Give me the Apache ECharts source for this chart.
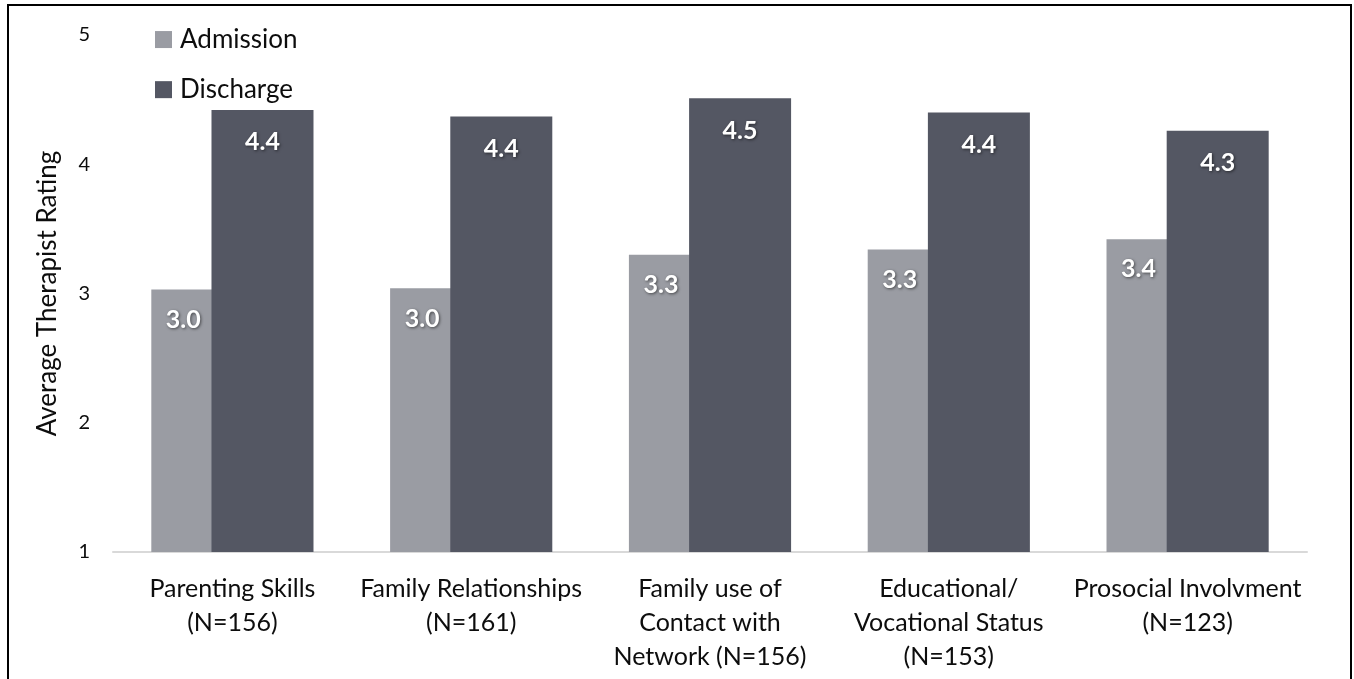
<html>
  <head>
    <title>Therapist Rating</title>
    <script src="https://cdn.jsdelivr.net/npm/echarts@6/dist/echarts.min.js"></script>
    <style>
      body { margin: 0; background: #fff; }
      #chart { width: 1354px; height: 679px; }
    </style>
  </head>
  <body>
    <div id="chart"></div>
    <script>
      // data
      var categories = [
        'Parenting Skills\n(N=156)',
        'Family Relationships\n(N=161)',
        'Family use of\nContact with\nNetwork (N=156)',
        'Educational/\nVocational Status\n(N=153)',
        'Prosocial Involvment\n(N=123)'
      ]
      var admission = [3.03, 3.04, 3.30, 3.34, 3.42]
      var discharge = [4.42, 4.37, 4.51, 4.40, 4.26]

      var font = 'Lato, "Open Sans", sans-serif'

      var labelStyle = {
        show: true,
        color: '#fff',
        fontSize: 25,
        fontWeight: 'bold',
        fontFamily: font,
        textShadowColor: 'rgba(0,0,0,0.55)',
        textShadowBlur: 3,
        textShadowOffsetX: 1,
        textShadowOffsetY: 1,
        formatter: function (p) { return p.value.toFixed(1) }
      }

      var myChart = echarts.init(document.getElementById('chart'))
      myChart.setOption({
        animation: false,
        textStyle: { fontFamily: font },
        graphic: [
          {
            type: 'rect',
            shape: { x: 8, y: 5, width: 1343, height: 700 },
            style: { fill: 'none', stroke: '#000', lineWidth: 2 },
            silent: true
          }
        ],
        legend: {
          orient: 'vertical',
          left: 150,
          top: 15,
          itemWidth: 17,
          itemHeight: 17,
          itemGap: 11,
          icon: 'rect',
          textStyle: { fontSize: 26, color: '#0d0d0d', fontFamily: font, padding: [0, 0, 0, 3] },
          data: ['Admission', 'Discharge']
        },
        grid: { left: 113, right: 47, top: 35, bottom: 127 },
        xAxis: {
          type: 'category',
          data: categories,
          axisLine: { lineStyle: { color: '#d9d9d9', width: 2 } },
          axisTick: { show: false },
          axisLabel: {
            fontSize: 25,
            color: '#0d0d0d',
            lineHeight: 34,
            margin: 20,
            interval: 0,
            fontFamily: font
          }
        },
        yAxis: {
          type: 'value',
          min: 1,
          max: 5,
          interval: 1,
          name: 'Average Therapist Rating',
          nameLocation: 'middle',
          nameGap: 32,
          nameTextStyle: { fontSize: 26, color: '#0d0d0d', fontFamily: font },
          axisLine: { show: false },
          axisTick: { show: false },
          splitLine: { show: false },
          axisLabel: { fontSize: 20, color: '#0d0d0d', margin: 23, fontFamily: font }
        },
        series: [
          {
            name: 'Admission',
            type: 'bar',
            data: admission,
            barWidth: 102,
            barGap: '-41%',
            itemStyle: { color: '#9a9ca3' },
            label: Object.assign({}, labelStyle, { position: 'insideTop', offset: [-19, 6] }),
            z: 2
          },
          {
            name: 'Discharge',
            type: 'bar',
            data: discharge,
            barWidth: 102,
            itemStyle: { color: '#545763' },
            label: Object.assign({}, labelStyle, { position: 'insideTop', offset: [0, 8] }),
            z: 3
          }
        ]
      })
    </script>
  </body>
</html>
